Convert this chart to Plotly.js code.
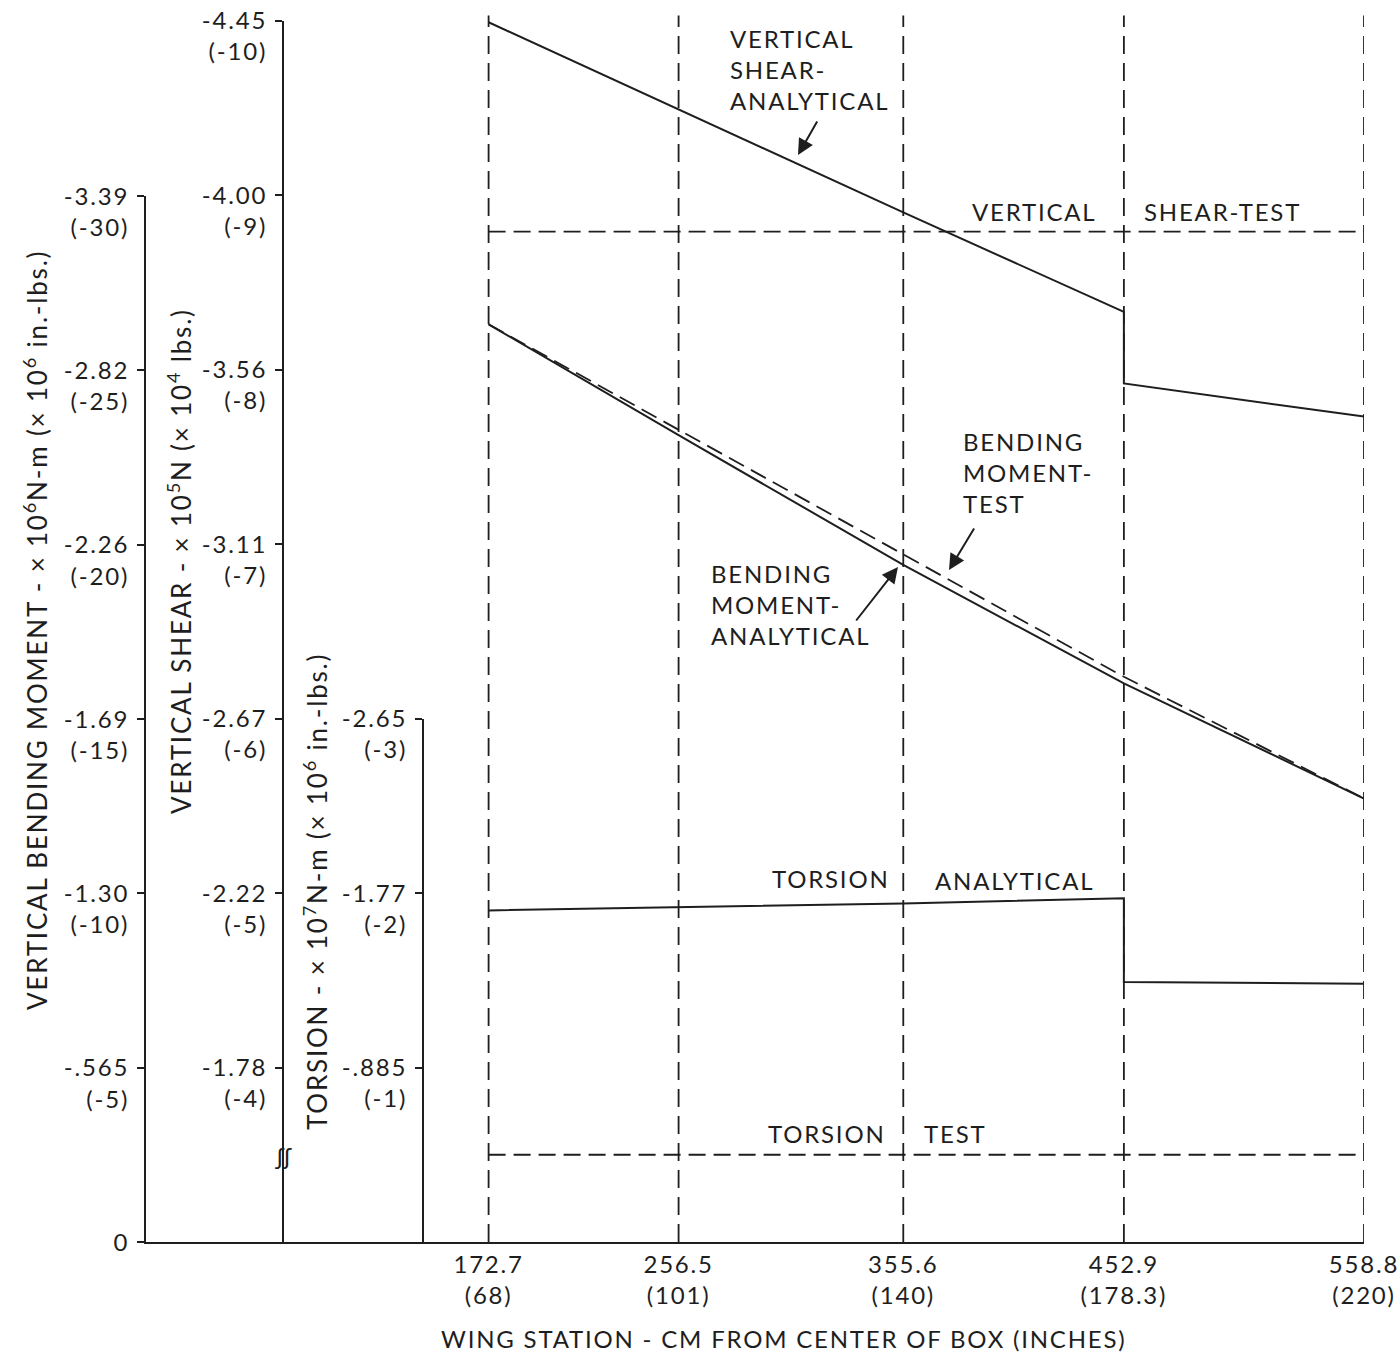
<!DOCTYPE html>
<html><head><meta charset="utf-8">
<script src="https://cdn.plot.ly/plotly-3.0.1.min.js"></script>
<style>html,body{margin:0;padding:0;background:#fff} svg text{letter-spacing:1.8px}</style>
</head><body><div id="chart" style="width:1400px;height:1356px"></div>
<script>
// ---- data ----
const stationCm = [172.7, 256.5, 355.6, 452.9, 558.8];
const stationCmLabel = ['172.7', '256.5', '355.6', '452.9', '558.8'];
const stationInLabel = ['68', '101', '140', '178.3', '220'];

// vertical shear (x 10^4 lbs)
const shearAnalyticalX = [172.7, 256.5, 355.6, 452.9, 452.9, 558.8];
const shearAnalyticalY = [-9.99, -9.49, -8.90, -8.33, -7.92, -7.73];
const shearTestX = [172.7, 558.8];
const shearTestY = [-8.79, -8.79];

// vertical bending moment (x 10^6 in.-lbs.)
const bendingAnalyticalX = [172.7, 256.5, 355.6, 452.9, 558.8];
const bendingAnalyticalY = [-26.32, -23.14, -19.42, -16.02, -12.72];
const bendingTestX = [172.7, 256.5, 355.6, 452.9, 558.8];
const bendingTestY = [-26.32, -23.29, -19.72, -16.21, -12.72];

// torsion (x 10^6 in.-lbs.)
const torsionAnalyticalX = [172.7, 256.5, 355.6, 452.9, 452.9, 558.8];
const torsionAnalyticalY = [-1.90, -1.92, -1.94, -1.97, -1.49, -1.48];
const torsionTestX = [172.7, 558.8];
const torsionTestY = [-0.50, -0.50];

// axis ticks
const bendingTickVals = [0, -5, -10, -15, -20, -25, -30];
const bendingTickSI = ['0', '-.565', '-1.30', '-1.69', '-2.26', '-2.82', '-3.39'];
const shearTickVals = [-4, -5, -6, -7, -8, -9, -10];
const shearTickSI = ['-1.78', '-2.22', '-2.67', '-3.11', '-3.56', '-4.00', '-4.45'];
const torsionTickVals = [-1, -2, -3];
const torsionTickSI = ['-.885', '-1.77', '-2.65'];

// ---- helpers ----
const W = 1400, H = 1356;
const FONT = 'Lato, "Noto Sans", sans-serif';
const INK = '#1e1e1e';
const px = v => v / W;
const py = v => 1 - v / H;
const twoLine = (vals, si) => vals.map((v, i) => v === 0 ? si[i] + '<br>\u00a0' : si[i] + '<br>(' + v + ')');

const solid = {color: INK, width: 2};
const dashed = {color: INK, width: 1.8, dash: '17px,8px'};

const traces = [
  {x: shearAnalyticalX, y: shearAnalyticalY, xaxis: 'x', yaxis: 'y2', mode: 'lines', line: solid},
  {x: shearTestX, y: shearTestY, xaxis: 'x', yaxis: 'y2', mode: 'lines', line: dashed},
  {x: bendingAnalyticalX, y: bendingAnalyticalY, xaxis: 'x', yaxis: 'y', mode: 'lines', line: solid},
  {x: bendingTestX, y: bendingTestY, xaxis: 'x', yaxis: 'y', mode: 'lines', line: dashed},
  {x: torsionAnalyticalX, y: torsionAnalyticalY, xaxis: 'x', yaxis: 'y3', mode: 'lines', line: solid},
  {x: torsionTestX, y: torsionTestY, xaxis: 'x', yaxis: 'y3', mode: 'lines', line: dashed}
];

const tickFont = {family: FONT, size: 24, color: INK};
const yCommon = {
  showline: true, linecolor: INK, linewidth: 2, showgrid: false, zeroline: false,
  ticks: 'outside', ticklen: 7, tickwidth: 2, tickcolor: INK, tickmode: 'array',
  tickfont: tickFont, ticklabelshift: -16, ticklabelstandoff: 3, automargin: false
};

const bottom = 1242;
const layout = {
  width: W, height: H, margin: {l: 0, r: 0, t: 0, b: 0},
  paper_bgcolor: '#fff', plot_bgcolor: 'rgba(0,0,0,0)', showlegend: false,
  font: {family: FONT, color: INK},
  xaxis: {
    domain: [px(146), px(1364)], range: [21.6, 558.8], anchor: 'y',
    showline: true, linecolor: INK, linewidth: 2, showgrid: false, zeroline: false,
    ticks: '', tickmode: 'array', tickvals: stationCm,
    ticktext: stationCmLabel.map((c, i) => c + '<br>(' + stationInLabel[i] + ')'),
    tickfont: {family: FONT, size: 24, color: INK}, automargin: false
  },
  yaxis: Object.assign({}, yCommon, {
    domain: [py(bottom), py(196)], range: [0, -30], anchor: 'x',
    tickvals: bendingTickVals, ticktext: twoLine(bendingTickVals, bendingTickSI)
  }),
  yaxis2: Object.assign({}, yCommon, {
    domain: [py(bottom), py(20.5)], range: [-3, -10], anchor: 'free', position: px(283),
    tickvals: shearTickVals, ticktext: twoLine(shearTickVals, shearTickSI)
  }),
  yaxis3: Object.assign({}, yCommon, {
    domain: [py(bottom), py(718.5)], range: [0, -3], anchor: 'free', position: px(423),
    tickvals: torsionTickVals, ticktext: twoLine(torsionTickVals, torsionTickSI)
  }),
  shapes: stationCm.map(s => ({
    type: 'line', xref: 'x', yref: 'y2 domain', x0: s, x1: s, y0: 0, y1: 1.004,
    line: {color: INK, width: 1.8, dash: '18px,9px'}
  })),
  annotations: []
};

const lab = 24;
function txt(text, x, y, opts) {
  layout.annotations.push(Object.assign({
    text: text, x: px(x), y: py(y), xref: 'paper', yref: 'paper', showarrow: false,
    xanchor: 'center', yanchor: 'middle',
    font: {family: FONT, size: lab, color: INK}
  }, opts || {}));
}
function arrow(tipX, tipY, tailX, tailY) {
  layout.annotations.push({
    text: '', x: px(tipX), y: py(tipY), xref: 'paper', yref: 'paper',
    ax: tailX - tipX, ay: tailY - tipY, showarrow: true, arrowhead: 2, arrowsize: 1.6,
    arrowwidth: 2, arrowcolor: INK, standoff: 0
  });
}

txt('VERTICAL<br>SHEAR-<br>ANALYTICAL', 728, 22, {xanchor: 'left', yanchor: 'top', align: 'left'});
arrow(798, 155, 818, 120);
txt('VERTICAL', 1034, 212);
txt('SHEAR-TEST', 1222, 212);
txt('BENDING<br>MOMENT-<br>TEST', 961, 425, {xanchor: 'left', yanchor: 'top', align: 'left'});
arrow(949, 570, 975, 527);
txt('BENDING<br>MOMENT-<br>ANALYTICAL', 709, 557, {xanchor: 'left', yanchor: 'top', align: 'left'});
arrow(898, 567, 855, 622);
txt('TORSION', 831, 879);
txt('ANALYTICAL', 1014, 880);
txt('TORSION', 827, 1133);
txt('TEST', 955, 1133);
txt('WING STATION - CM FROM CENTER OF BOX (INCHES)', 784, 1338, {font: {family: FONT, size: 24, color: INK}});
txt('VERTICAL BENDING MOMENT - \u00d7 10<sup>6</sup>N-m (\u00d7 10<sup>6</sup> in.-lbs.)', 36, 630, {textangle: -90, font: {family: FONT, size: 26, color: INK}});
txt('VERTICAL SHEAR - \u00d7 10<sup>5</sup>N (\u00d7 10<sup>4</sup> lbs.)', 180, 561, {textangle: -90, font: {family: FONT, size: 26, color: INK}});
txt('TORSION - \u00d7 10<sup>7</sup>N-m (\u00d7 10<sup>6</sup> in.-lbs.)', 316, 892, {textangle: -90, font: {family: FONT, size: 26, color: INK}});
txt('\u0283\u0283', 283, 1155, {font: {family: FONT, size: 24, color: INK}});

Plotly.newPlot('chart', traces, layout, {staticPlot: true, displayModeBar: false});
</script>
</body></html>
